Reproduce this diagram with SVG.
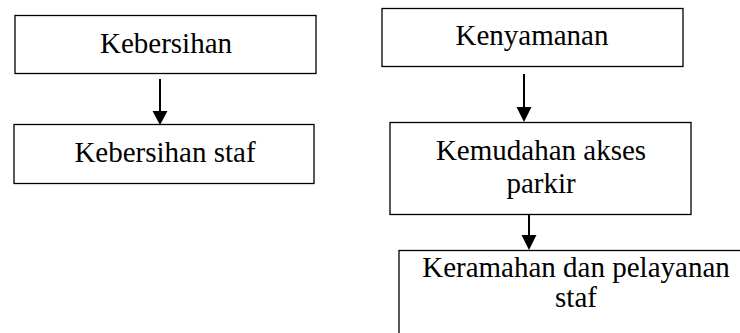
<svg xmlns="http://www.w3.org/2000/svg" width="740" height="333" viewBox="0 0 740 333">
  <style>
    .box { fill: #ffffff; stroke: #000000; stroke-width: 1.3; }
    .lbl { font-size: 29px; fill: #000000; text-anchor: middle; }
    .edge { stroke: #000000; stroke-width: 2; fill: none; }
    .head { fill: #000000; stroke: none; }
  </style>
  <rect width="740" height="333" fill="#ffffff"/>

  <g font-family="Liberation Serif, Times New Roman, DejaVu Serif, serif">
    <g id="kebersihan">
      <rect class="box" x="15" y="15.5" width="301" height="58"/>
      <text class="lbl" x="166" y="53">Kebersihan</text>
    </g>
    <g id="kebersihan-staf">
      <rect class="box" x="14" y="124.5" width="300" height="59"/>
      <text class="lbl" x="165" y="162">Kebersihan staf</text>
    </g>
    <g id="kenyamanan">
      <rect class="box" x="382" y="8.5" width="301" height="58"/>
      <text class="lbl" x="532" y="45">Kenyamanan</text>
    </g>
    <g id="kemudahan-akses-parkir">
      <rect class="box" x="390" y="122.5" width="301" height="92"/>
      <text class="lbl" x="541" y="160">Kemudahan akses</text>
      <text class="lbl" x="541" y="193">parkir</text>
    </g>
    <g id="keramahan-pelayanan-staf">
      <rect class="box" x="399" y="250.5" width="360" height="100"/>
      <text class="lbl" x="576" y="277">Keramahan dan pelayanan</text>
      <text class="lbl" x="576" y="307">staf</text>
    </g>
  </g>

  <g id="connectors">
    <line class="edge" x1="160" y1="79" x2="160" y2="111"/>
    <polygon class="head" points="152.5,111 167.5,111 160,125"/>
    <line class="edge" x1="524" y1="74" x2="524" y2="107"/>
    <polygon class="head" points="516.5,107 531.5,107 524,122"/>
    <line class="edge" x1="529" y1="215" x2="529" y2="235"/>
    <polygon class="head" points="521.5,235 536.5,235 529,250"/>
  </g>
</svg>
